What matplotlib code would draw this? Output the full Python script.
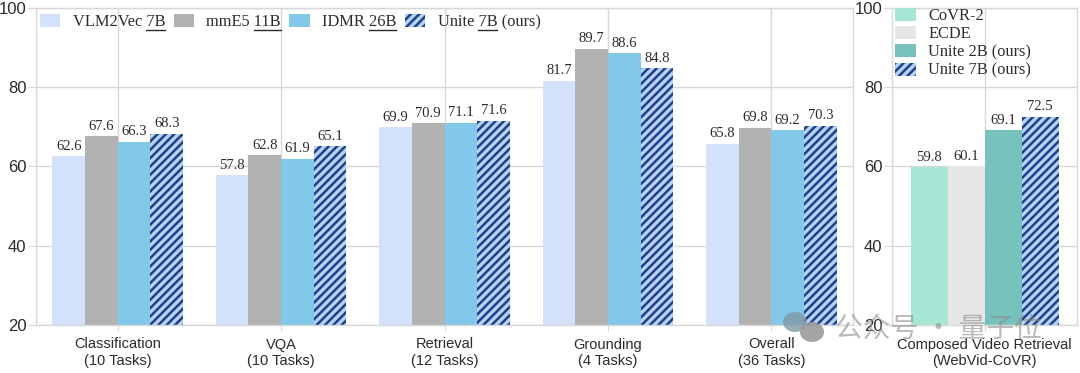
import matplotlib as mpl
mpl.use('Agg')

import matplotlib.pyplot as plt
from matplotlib.lines import Line2D
from matplotlib.patches import Ellipse
import numpy as np

# left panel
task_labels = ['Classification\n(10 Tasks)', 'VQA\n(10 Tasks)', 'Retrieval\n(12 Tasks)',
               'Grounding\n(4 Tasks)', 'Overall\n(36 Tasks)']
names = ['VLM2Vec 7B', 'mmE5 11B', 'IDMR 26B', 'Unite 7B (ours)']
underlined = ['7B', '11B', '26B', '7B']
vlm2vec = [62.6, 57.8, 69.9, 81.7, 65.8]
mme5 = [67.6, 62.8, 70.9, 89.7, 69.8]
idmr = [66.3, 61.9, 71.1, 88.6, 69.2]
unite_7b = [68.3, 65.1, 71.6, 84.8, 70.3]

# right panel
covr_label = 'Composed Video Retrieval\n(WebVid-CoVR)'
covr_names = ['CoVR-2', 'ECDE', 'Unite 2B (ours)', 'Unite 7B (ours)']
covr_values = [59.8, 60.1, 69.1, 72.5]

yticks = [20, 40, 60, 80, 100]

plt.rcParams['font.family'] = ['Liberation Sans', 'DejaVu Sans']
plt.rcParams['hatch.linewidth'] = 1.8

BAR_WIDTH = 0.2
GREY = '#d8d8d8'
TEXT = '#2b2b2b'
NAVY = '#1e3f8f'
LIGHT_STRIPE = '#b4d2f5'
BLUE_STYLES = [
    dict(color='#d3e1fa'),
    dict(color='#b2b2b2'),
    dict(color='#82c8e8'),
    dict(facecolor=LIGHT_STRIPE, edgecolor=NAVY, hatch='////', linewidth=0),
]
RIGHT_STYLES = [
    dict(color='#a6e6d5'),
    dict(color='#e6e6e6'),
    dict(facecolor='#6fbdb8', edgecolor='#80c6c0', hatch='.....', linewidth=0),
    dict(facecolor=LIGHT_STRIPE, edgecolor=NAVY, hatch='////', linewidth=0),
]

fig = plt.figure(figsize=(10.8, 3.73), dpi=100)
ax = fig.add_axes([36 / 1080, 1 - 325 / 373, 817 / 1080, 317 / 373])
ax2 = fig.add_axes([892 / 1080, 1 - 325 / 373, 185 / 1080, 317 / 373])


def style_axes(a):
    a.set_ylim(20, 100)
    a.set_yticks(yticks)
    a.grid(color=GREY, linewidth=1.0)
    a.set_axisbelow(True)
    a.tick_params(axis='y', length=6, color=GREY, labelsize=12, labelcolor=TEXT, pad=1)
    a.tick_params(axis='x', length=4, color=GREY, labelsize=10.5, labelcolor=TEXT, pad=5)
    for spine in a.spines.values():
        spine.set_color(GREY)
        spine.set_linewidth(1.0)


def value_labels(a, bars, values):
    for bar, value in zip(bars, values):
        a.annotate(f'{value:.1f}', (bar.get_x() + bar.get_width() / 2, value),
                   xytext=(0, 2.5), textcoords='offset points', ha='center', va='bottom',
                   fontsize=10.5, family=['Liberation Serif'], color=TEXT)


# left panel bars
series = [vlm2vec, mme5, idmr, unite_7b]
x = np.arange(len(task_labels))
for i, values in enumerate(series):
    bars = ax.bar(x + (i - 1.5) * BAR_WIDTH, values, BAR_WIDTH, label=names[i], **BLUE_STYLES[i])
    value_labels(ax, bars, values)
ax.set_xlim(-0.5, 4.5)
ax.set_xticks(x, task_labels)
style_axes(ax)
legend = ax.legend(loc='upper left', bbox_to_anchor=(-2 / 817, 1.0), ncol=4, frameon=False,
                   prop={'family': 'Liberation Serif', 'size': 11.8}, columnspacing=0.52,
                   handlelength=1.25, handleheight=0.85, handletextpad=0.75, labelcolor=TEXT,
                   borderaxespad=0.1, borderpad=0.25)

# right panel bars
for i, value in enumerate(covr_values):
    bars = ax2.bar((i - 1.5) * BAR_WIDTH, value, BAR_WIDTH, label=covr_names[i], **RIGHT_STYLES[i])
    value_labels(ax2, bars, [value])
ax2.set_xlim(-0.5, 0.5)
ax2.set_xticks([0], [covr_label])
style_axes(ax2)
ax2.legend(loc='upper left', bbox_to_anchor=(-3 / 185, 1.018), frameon=False,
           prop={'family': 'Liberation Serif', 'size': 11.8}, labelspacing=0.12,
           handlelength=1.3, handleheight=0.85, handletextpad=0.75, labelcolor=TEXT,
           borderaxespad=0.1, borderpad=0.25)

# underline the parameter counts in the legend (mathtext has no \underline)
fig.canvas.draw()
renderer = fig.canvas.get_renderer()


def text_width(s, props):
    t = fig.text(0, 0, s, fontproperties=props)
    w = t.get_window_extent(renderer).width
    t.remove()
    return w


for label, token in zip(legend.get_texts(), underlined):
    full = label.get_text()
    props = label.get_fontproperties()
    box = label.get_window_extent(renderer)
    start = full.index(token)
    x0 = box.x0 + text_width(full[:start] + '.', props) - text_width('.', props)
    x1 = x0 + text_width(token, props)
    y = 373 - 29.5
    fig.add_artist(Line2D([x0 / 1080, x1 / 1080], [y / 373, y / 373], color=TEXT, linewidth=1.0))

# watermark
fig.text(835 / 1080, 1 - 329 / 373, '公众号 · 量子位', fontsize=20, color='#8c8c8c', alpha=0.6,
         family=['Noto Sans CJK SC', 'DejaVu Sans'], va='center', ha='left', zorder=10)
overlay = fig.add_axes([0, 0, 1, 1], facecolor='none')
overlay.set_xlim(0, 1080)
overlay.set_ylim(373, 0)
overlay.axis('off')
overlay.add_patch(Ellipse((795, 322), 24, 20, color='#7f9aa5', alpha=0.8, lw=0))
overlay.add_patch(Ellipse((812, 332), 24, 20, color='#9a9a9a', alpha=0.9, lw=0))

fig.savefig('out.png', dpi=100)
plt.close()
